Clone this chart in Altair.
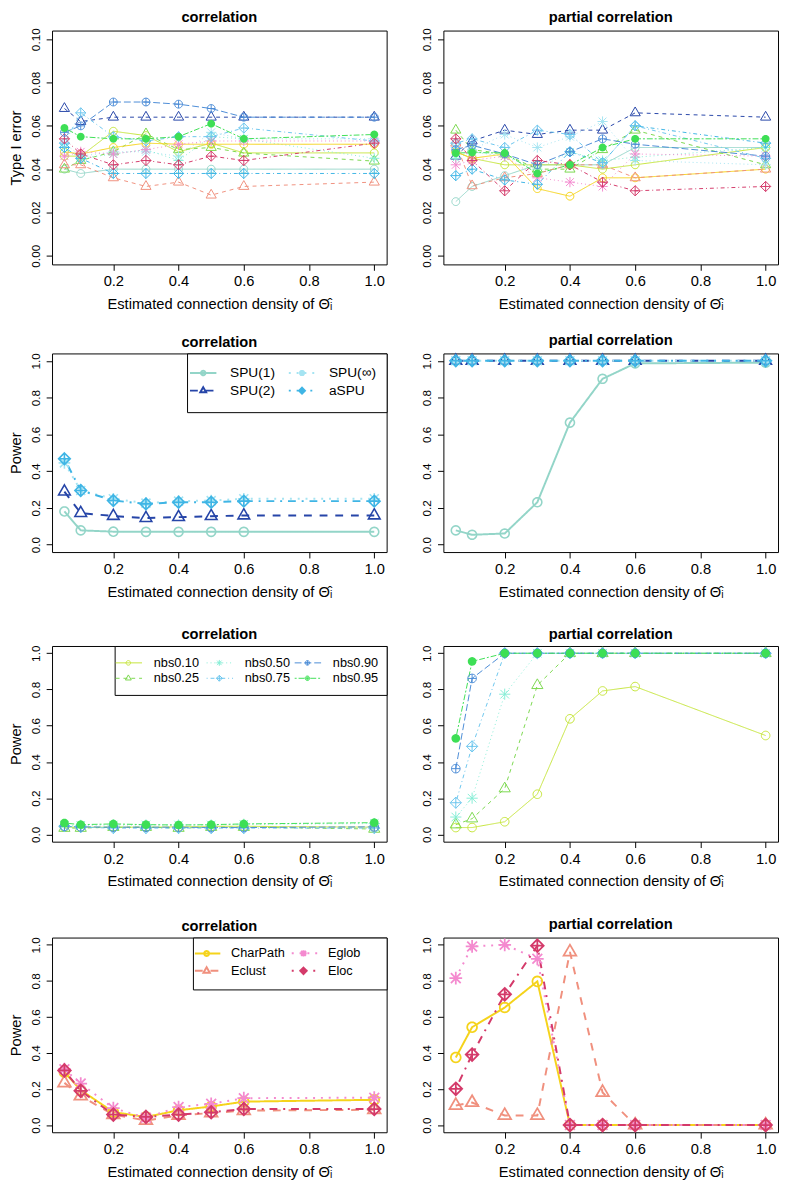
import math
import altair as alt
import pandas as pd

# ---------------- data ----------------
X = [0.05, 0.1, 0.2, 0.3, 0.4, 0.5, 0.6, 1.0]
X_TICKS = [0.2, 0.4, 0.6, 0.8, 1.0]
Y_TICKS_T1 = [0.0, 0.02, 0.04, 0.06, 0.08, 0.10]
Y_TICKS_PW = [0.0, 0.2, 0.4, 0.6, 0.8, 1.0]

# Row 1: Type I error, correlation
t1c_spu1 = [0.040, 0.038, 0.040, 0.040, 0.040, 0.040, 0.040, 0.040]
t1c_spu2 = [0.068, 0.062, 0.064, 0.064, 0.064, 0.064, 0.064, 0.064]
t1c_spuinf = [0.052, 0.046, 0.048, 0.048, 0.046, 0.057, 0.054, 0.054]
t1c_aspu = [0.050, 0.045, 0.038, 0.038, 0.038, 0.038, 0.038, 0.038]
t1c_nbs10 = [0.046, 0.046, 0.0575, 0.0555, 0.048, 0.052, 0.0475, 0.0475]
t1c_nbs25 = [0.040, 0.044, 0.048, 0.0563, 0.049, 0.050, 0.0474, 0.0437]
t1c_nbs50 = [0.050, 0.045, 0.047, 0.049, 0.044, 0.055, 0.054, 0.045]
t1c_nbs75 = [0.052, 0.066, 0.055, 0.053, 0.055, 0.055, 0.059, 0.053]
t1c_nbs90 = [0.057, 0.060, 0.071, 0.071, 0.070, 0.068, 0.064, 0.064]
t1c_nbs95 = [0.059, 0.055, 0.054, 0.054, 0.055, 0.061, 0.054, 0.056]
t1c_charpath = [0.048, 0.047, 0.050, 0.052, 0.0515, 0.0515, 0.0515, 0.0515]
t1c_eclust = [0.042, 0.042, 0.036, 0.032, 0.034, 0.028, 0.032, 0.034]
t1c_eglob = [0.046, 0.048, 0.047, 0.049, 0.0515, 0.053, 0.053, 0.053]
t1c_eloc = [0.054, 0.047, 0.042, 0.044, 0.042, 0.046, 0.044, 0.052]

# Row 1: Type I error, partial correlation
t1p_spu1 = [0.025, 0.032, 0.037, 0.042, 0.042, 0.042, 0.050, 0.050]
t1p_spu2 = [0.046, 0.053, 0.058, 0.056, 0.058, 0.058, 0.066, 0.064]
t1p_spuinf = [0.050, 0.049, 0.056, 0.050, 0.055, 0.062, 0.044, 0.042]
t1p_aspu = [0.037, 0.040, 0.035, 0.033, 0.048, 0.043, 0.060, 0.052]
t1p_nbs10 = [0.048, 0.045, 0.042, 0.042, 0.042, 0.040, 0.042, 0.050]
t1p_nbs25 = [0.058, 0.049, 0.047, 0.040, 0.040, 0.049, 0.058, 0.042]
t1p_nbs50 = [0.045, 0.048, 0.046, 0.040, 0.048, 0.044, 0.0455, 0.050]
t1p_nbs75 = [0.052, 0.054, 0.050, 0.058, 0.056, 0.043, 0.060, 0.045]
t1p_nbs90 = [0.049, 0.051, 0.047, 0.042, 0.048, 0.054, 0.0515, 0.046]
t1p_nbs95 = [0.0474, 0.0477, 0.0474, 0.038, 0.042, 0.050, 0.054, 0.054]
t1p_charpath = [0.048, 0.045, 0.047, 0.031, 0.0275, 0.036, 0.036, 0.040]
t1p_eclust = [0.052, 0.0323, 0.036, 0.038, 0.042, 0.042, 0.036, 0.040]
t1p_eglob = [0.042, 0.044, 0.046, 0.036, 0.034, 0.032, 0.047, 0.046]
t1p_eloc = [0.054, 0.044, 0.030, 0.044, 0.042, 0.034, 0.030, 0.032]

# Row 2: power of SPU tests
p2c_spu1 = [0.181, 0.078, 0.071, 0.070, 0.070, 0.070, 0.070, 0.070]
p2c_spu2 = [0.289, 0.172, 0.156, 0.145, 0.150, 0.155, 0.159, 0.159]
p2c_spuinf = [0.445, 0.295, 0.250, 0.226, 0.237, 0.240, 0.250, 0.250]
p2c_aspu = [0.467, 0.295, 0.240, 0.222, 0.231, 0.231, 0.237, 0.237]
p2p_spu1 = [0.078, 0.054, 0.061, 0.231, 0.664, 0.902, 0.986, 0.990]
p2p_spu2 = [1.0, 1.0, 1.0, 1.0, 1.0, 1.0, 1.0, 1.0]
p2p_spuinf = [1.0, 1.0, 1.0, 1.0, 1.0, 1.0, 1.0, 1.0]
p2p_aspu = [1.0, 1.0, 1.0, 1.0, 1.0, 1.0, 1.0, 1.0]

# Row 3: power of NBS
p3c_nbs10 = [0.040, 0.040, 0.040, 0.040, 0.042, 0.045, 0.045, 0.040]
p3c_nbs25 = [0.035, 0.035, 0.040, 0.040, 0.035, 0.040, 0.040, 0.030]
p3c_nbs50 = [0.050, 0.050, 0.052, 0.052, 0.052, 0.052, 0.056, 0.060]
p3c_nbs75 = [0.045, 0.040, 0.035, 0.035, 0.035, 0.035, 0.035, 0.035]
p3c_nbs90 = [0.045, 0.042, 0.040, 0.040, 0.040, 0.038, 0.038, 0.042]
p3c_nbs95 = [0.063, 0.054, 0.058, 0.054, 0.052, 0.054, 0.058, 0.065]
p3p_nbs10 = [0.038, 0.038, 0.070, 0.222, 0.638, 0.792, 0.816, 0.546]
p3p_nbs25 = [0.054, 0.087, 0.253, 0.823, 1.0, 1.0, 1.0, 1.0]
p3p_nbs50 = [0.096, 0.200, 0.774, 1.0, 1.0, 1.0, 1.0, 1.0]
p3p_nbs75 = [0.175, 0.486, 1.0, 1.0, 1.0, 1.0, 1.0, 1.0]
p3p_nbs90 = [0.363, 0.861, 1.0, 1.0, 1.0, 1.0, 1.0, 1.0]
p3p_nbs95 = [0.530, 0.955, 1.0, 1.0, 1.0, 1.0, 1.0, 1.0]

# Row 4: power of graph metrics
p4c_charpath = [0.293, 0.194, 0.072, 0.045, 0.082, 0.103, 0.130, 0.140]
p4c_eclust = [0.234, 0.161, 0.058, 0.025, 0.054, 0.067, 0.080, 0.085]
p4c_eglob = [0.310, 0.230, 0.094, 0.040, 0.100, 0.118, 0.149, 0.152]
p4c_eloc = [0.303, 0.190, 0.058, 0.045, 0.058, 0.071, 0.089, 0.089]
p4p_charpath = [0.375, 0.543, 0.652, 0.797, 0.0, 0.0, 0.0, 0.0]
p4p_eclust = [0.109, 0.125, 0.053, 0.053, 0.960, 0.181, 0.0, 0.0]
p4p_eglob = [0.815, 0.991, 1.0, 0.922, 0.0, 0.0, 0.0, 0.0]
p4p_eloc = [0.201, 0.391, 0.725, 0.995, 0.0, 0.0, 0.0, 0.0]

# ---------------- styles ----------------
SERIES = ["SPU(1)", "SPU(2)", "SPU(∞)", "aSPU",
          "nbs0.10", "nbs0.25", "nbs0.50", "nbs0.75", "nbs0.90", "nbs0.95",
          "CharPath", "Eclust", "Eglob", "Eloc"]
COLORS = ["#93D5C8", "#2645A8", "#A5E4F2", "#3FB5E5",
          "#C5E43A", "#7BD84E", "#86EED6", "#6CC6EE", "#4B8BD6", "#3DDF55",
          "#F5D31B", "#F0907E", "#F48ACF", "#D43A6A"]
LTYS = ["solid", "dashed", "dotted", "dotdash",
        "solid", "dashed", "dotted", "dotdash", "longdash", "twodash",
        "solid", "dashed", "dotted", "dotdash"]
PCHS = ["circle", "triangle", "asterisk", "diamondplus",
        "circle", "triangle", "asterisk", "diamondplus", "circleplus", "dot",
        "circle", "triangle", "asterisk", "diamondplus"]
COL = dict(zip(SERIES, COLORS))
LTY = dict(zip(SERIES, LTYS))
PCH = dict(zip(SERIES, PCHS))
DASH = {"solid": [], "dashed": [4, 4], "dotted": [1, 3], "dotdash": [1, 3, 4, 3],
        "longdash": [7, 3], "twodash": [2, 2, 6, 2]}

FONT = "Liberation Sans"
XTITLE = "Estimated connection density of Θ̂ᵢ"


# ---------------- shape helpers ----------------
def circle_pts(cx, cy, r, n=24):
    return [(cx + r * math.cos(2 * math.pi * k / n), cy + r * math.sin(2 * math.pi * k / n)) for k in range(n)]


def marker_polys(kind, cx, cy, r, legend_fill=0.0):
    a = 1.3 * r
    if kind == "circle":
        return [(circle_pts(cx, cy, r), True)]
    if kind == "triangle":
        return [([(cx, cy - 1.5 * r), (cx + 1.3 * r, cy + 0.75 * r), (cx - 1.3 * r, cy + 0.75 * r)], True)]
    if kind == "asterisk":
        return [([(cx - a, cy), (cx + a, cy)], False), ([(cx, cy - a), (cx, cy + a)], False),
                ([(cx - r, cy - r), (cx + r, cy + r)], False), ([(cx - r, cy + r), (cx + r, cy - r)], False)]
    if kind == "diamondplus":
        return [([(cx, cy - a), (cx + a, cy), (cx, cy + a), (cx - a, cy)], True),
                ([(cx - a, cy), (cx + a, cy)], False), ([(cx, cy - a), (cx, cy + a)], False)]
    if kind == "circleplus":
        return [(circle_pts(cx, cy, r), True),
                ([(cx - r, cy), (cx + r, cy)], False), ([(cx, cy - r), (cx, cy + r)], False)]
    if kind == "dot":
        polys = []
        if legend_fill > 0:
            rr = r
            while rr > 0:
                polys.append((circle_pts(cx, cy, rr), True))
                rr -= legend_fill * 0.9
            return polys
        return [(circle_pts(cx, cy, r), True)]
    return []


def path_str(polys, s=1.0):
    out = []
    for pts, closed in polys:
        out.append("M" + "L".join(f"{x / s:.4f},{y / s:.4f}" for x, y in pts) + ("Z" if closed else ""))
    return "".join(out)


def dash_segments(x0, x1, pattern, lw):
    if not pattern:
        return [([(x0, 0), (x1, 0)], False)]
    pat = [p * lw for p in pattern]
    segs, x, i, on = [], x0, 0, True
    while x < x1 - 1e-6:
        xe = min(x + pat[i % len(pat)], x1)
        if on:
            segs.append(([(x, 0), (xe, 0)], False))
        x, on, i = xe, not on, i + 1
    return segs


def legend_paths(spec):
    # Vega sizes each entry as W = max(ceil(sqrt(S) + strokeWidth), fontSize);
    # the symbol is centred at (W/2, W/2) and the label starts at W + labelOffset.
    W = spec["W"]
    sw = spec["sw"]
    S = (W - sw) ** 2
    s = math.sqrt(S) / 2
    c = W / 2
    ncol = spec["ncol"]
    nrow = math.ceil(len(spec["order"]) / ncol)
    x0 = spec["line_start"] - c
    out = []
    for i, name in enumerate(spec["order"]):
        col, row = divmod(i, nrow)
        polys = dash_segments(x0, x0 + spec["line_len"], DASH[LTY[name]], sw)
        polys += marker_polys(PCH[name], x0 + spec["mx"], 0, spec["mr"], legend_fill=sw)
        polys.append(([(spec["widths"][col] - c, 0)], False))
        if row == nrow - 1:
            polys.append(([(0, spec["B"])], False))
        out.append(path_str(polys, s))
    return out, spec["text_off"] - W, S


def frame(d):
    rows = []
    for name, vals in d.items():
        for x, v in zip(X, vals):
            rows.append({"x": x, "y": v, "series": name})
    return pd.DataFrame(rows)


def panel(d, title, ydom, yticks, yfmt, ytitle, height, lw, r_px, ms, legend=None):
    df = frame(d)
    names = list(d.keys())
    cscale = alt.Scale(domain=names, range=[COL[n] for n in names])
    dscale = alt.Scale(domain=names, range=[([v * lw for v in DASH[LTY[n]]] or [1, 0]) for n in names])
    x = alt.X("x:Q", scale=alt.Scale(domain=[0.012, 1.038], nice=False, zero=False),
              axis=alt.Axis(values=X_TICKS, format=".1f", title=XTITLE, labelFlush=False,
                            titlePadding=8))
    y = alt.Y("y:Q", scale=alt.Scale(domain=ydom, nice=False, zero=False),
              axis=alt.Axis(values=yticks, format=yfmt, title=ytitle, labelAngle=270,
                            labelAlign="center", labelBaseline="bottom", labelFlush=False,
                            labelFontSize=12, titlePadding=6))
    base = alt.Chart(df)
    layers = [base.mark_line(strokeWidth=lw, strokeCap="butt").encode(
        x=x, y=y,
        color=alt.Color("series:N", scale=cscale, legend=None),
        strokeDash=alt.StrokeDash("series:N", scale=dscale, legend=None))]
    for kind in ["circle", "triangle", "asterisk", "diamondplus", "circleplus", "dot"]:
        members = [n for n in names if PCH[n] == kind]
        if not members:
            continue
        unit = path_str(marker_polys(kind, 0, 0, 1.0))
        layers.append(base.transform_filter(
            alt.FieldOneOfPredicate(field="series", oneOf=members)
        ).mark_point(shape=unit, size=(2 * r_px) ** 2, strokeWidth=(0.5 if kind == "dot" else ms),
                     filled=(kind == "dot"), opacity=1).encode(
            x=x, y=y, color=alt.Color("series:N", scale=cscale, legend=None)))
    if legend:
        paths, label_off, S = legend_paths(legend)
        leg = alt.Legend(orient="top-right", offset=0, padding=legend["pad"], strokeColor="black",
                         fillColor="white", columns=legend["ncol"], columnPadding=0,
                         rowPadding=0, gridAlign="each", labelFont=FONT,
                         labelFontSize=legend["fs"], labelColor="black", labelOffset=label_off,
                         symbolSize=S, symbolStrokeWidth=legend["sw"], symbolOpacity=1,
                         title=None)
        layers.append(base.transform_filter("datum.x < 0").mark_point(
            filled=False, opacity=1, size=S, strokeWidth=legend["sw"]).encode(
            x=x, y=y,
            color=alt.Color("series:N", scale=cscale, legend=leg),
            shape=alt.Shape("series:N", scale=alt.Scale(domain=names, range=paths), legend=leg)))
    return alt.layer(*layers).resolve_scale(color="independent", shape="independent").properties(
        width=342, height=height,
        title=alt.TitleParams(title, font=FONT, fontSize=15, fontWeight="bold", color="black",
                              offset=3, frame="group", anchor="middle"))


LEG_SPU = dict(order=["SPU(1)", "SPU(2)", "SPU(∞)", "aSPU"], ncol=2, fs=14, sw=2, pad=9, W=22,
               line_start=-6, line_len=27, mx=13.5, mr=2.3, text_off=35, widths=[87, 81], B=9)
LEG_NBS = dict(order=["nbs0.10", "nbs0.25", "nbs0.50", "nbs0.75", "nbs0.90", "nbs0.95"], ncol=3,
               fs=13, sw=1, pad=8.5, W=17, line_start=-7.5, line_len=27, mx=13, mr=2.3,
               text_off=31.5, widths=[81, 78, 73], B=6)
LEG_GR = dict(order=["CharPath", "Eclust", "Eglob", "Eloc"], ncol=2, fs=13, sw=2, pad=5.5, W=21,
              line_start=-3.5, line_len=26, mx=12, mr=2.5, text_off=33.5, widths=[87, 84], B=9.5)

ALL_C = dict(zip(SERIES, [t1c_spu1, t1c_spu2, t1c_spuinf, t1c_aspu, t1c_nbs10, t1c_nbs25, t1c_nbs50,
                          t1c_nbs75, t1c_nbs90, t1c_nbs95, t1c_charpath, t1c_eclust, t1c_eglob, t1c_eloc]))
ALL_P = dict(zip(SERIES, [t1p_spu1, t1p_spu2, t1p_spuinf, t1p_aspu, t1p_nbs10, t1p_nbs25, t1p_nbs50,
                          t1p_nbs75, t1p_nbs90, t1p_nbs95, t1p_charpath, t1p_eclust, t1p_eglob, t1p_eloc]))
SPU_C = {"SPU(1)": p2c_spu1, "SPU(2)": p2c_spu2, "SPU(∞)": p2c_spuinf, "aSPU": p2c_aspu}
SPU_P = {"SPU(1)": p2p_spu1, "SPU(2)": p2p_spu2, "SPU(∞)": p2p_spuinf, "aSPU": p2p_aspu}
NBS_C = {"nbs0.10": p3c_nbs10, "nbs0.25": p3c_nbs25, "nbs0.50": p3c_nbs50,
         "nbs0.75": p3c_nbs75, "nbs0.90": p3c_nbs90, "nbs0.95": p3c_nbs95}
NBS_P = {"nbs0.10": p3p_nbs10, "nbs0.25": p3p_nbs25, "nbs0.50": p3p_nbs50,
         "nbs0.75": p3p_nbs75, "nbs0.90": p3p_nbs90, "nbs0.95": p3p_nbs95}
GR_C = {"CharPath": p4c_charpath, "Eclust": p4c_eclust, "Eglob": p4c_eglob, "Eloc": p4c_eloc}
GR_P = {"CharPath": p4p_charpath, "Eclust": p4p_eclust, "Eglob": p4p_eglob, "Eloc": p4p_eloc}

T1D = [-0.004, 0.104]
PWD = [-0.04, 1.04]

RES = dict(color="independent", shape="independent", strokeDash="independent")


def row(left, right):
    return alt.hconcat(left, right, spacing=33).resolve_scale(**RES)


row1 = row(panel(ALL_C, "correlation", T1D, Y_TICKS_T1, ".2f", "Type I error", 239, 1, 4.0, 1),
           panel(ALL_P, "partial correlation", T1D, Y_TICKS_T1, ".2f", None, 239, 1, 4.0, 1))
row2 = row(panel(SPU_C, "correlation", PWD, Y_TICKS_PW, ".1f", "Power", 203, 2, 4.6, 1.6, LEG_SPU),
           panel(SPU_P, "partial correlation", PWD, Y_TICKS_PW, ".1f", None, 203, 2, 4.6, 1.6))
row3 = row(panel(NBS_C, "correlation", PWD, Y_TICKS_PW, ".1f", "Power", 200, 1, 4.4, 1, LEG_NBS),
           panel(NBS_P, "partial correlation", PWD, Y_TICKS_PW, ".1f", None, 200, 1, 4.4, 1))
row4 = row(panel(GR_C, "correlation", PWD, Y_TICKS_PW, ".1f", "Power", 199, 2, 5.0, 1.8, LEG_GR),
           panel(GR_P, "partial correlation", PWD, Y_TICKS_PW, ".1f", None, 199, 2, 5.0, 1.8))

bottom = alt.vconcat(row2, row3, row4, spacing=27).resolve_scale(**RES)
chart = alt.vconcat(row1, bottom, spacing=20).resolve_scale(**RES).properties(
    padding={"left": 0, "top": -12, "right": 0, "bottom": 0})

chart = chart.configure_view(stroke="black", strokeWidth=1).configure_axis(
    labelFont=FONT, labelFontSize=15, labelColor="black", titleFont=FONT, titleFontSize=15,
    titleFontWeight="normal", titleColor="black", tickColor="black", tickSize=6, tickWidth=1,
    domain=False, grid=False, labelPadding=4)

chart.save("out.html", embed_options={"renderer": "svg", "actions": False})
